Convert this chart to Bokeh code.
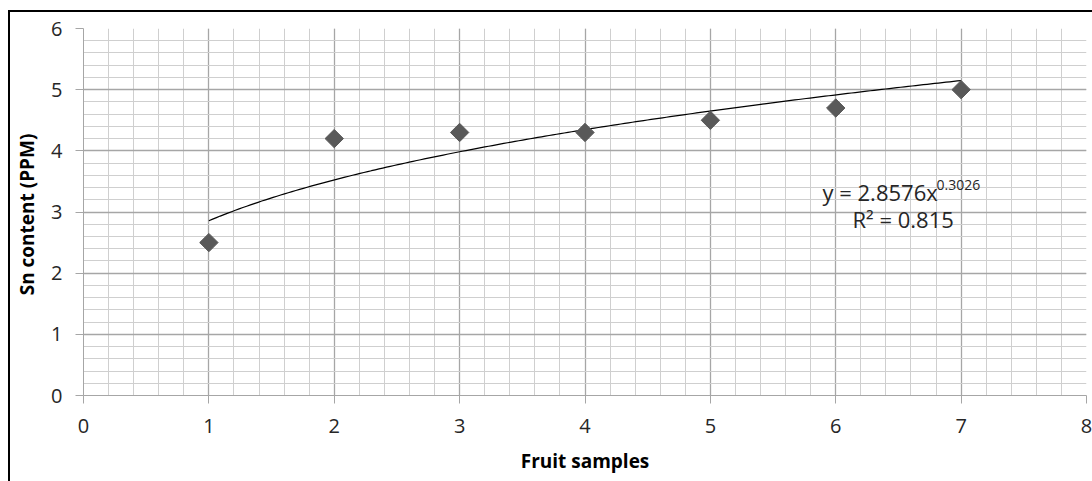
import numpy as np
from bokeh.plotting import figure
from bokeh.models import Label, FixedTicker, Range1d
from bokeh.embed import file_html
from bokeh.resources import INLINE

# Data
samples = [1, 2, 3, 4, 5, 6, 7]
sn_ppm = [2.5, 4.2, 4.3, 4.3, 4.5, 4.7, 5.0]
x_ticks = [0, 1, 2, 3, 4, 5, 6, 7, 8]
y_ticks = [0, 1, 2, 3, 4, 5, 6]
eq_text = "y = 2.8576x"
eq_exp = "0.3026"
r2_text = "R\u00b2 = 0.815"

# Power trendline fitted from data (least squares in log space)
b, lna = np.polyfit(np.log(samples), np.log(sn_ppm), 1)
a = np.exp(lna)
xt = np.linspace(min(samples), max(samples), 200)
yt = a * xt ** b

FONT = "Open Sans"

p = figure(frame_width=1003, frame_height=367, output_backend="svg", toolbar_location=None,
           x_range=Range1d(0, 8), y_range=Range1d(0, 6),
           min_border_left=73, min_border_right=6, min_border_top=16, min_border_bottom=86)
p.styles = {"margin-left": "8px", "margin-top": "10px",
            "border-left": "2px solid black", "border-top": "2px solid black"}
p.outline_line_color = None
p.background_fill_color = "white"

for ax, ticks in ((p.xaxis, x_ticks), (p.yaxis, y_ticks)):
    ax.ticker = FixedTicker(ticks=ticks, minor_ticks=list(np.arange(0, 8.01, 0.2)))
    ax.axis_line_color = "#a6a6a6"
    ax.major_tick_line_color = "#a6a6a6"
    ax.major_tick_out = 8
    ax.major_tick_in = 0
    ax.minor_tick_line_color = None
    ax.major_label_text_font = FONT
    ax.major_label_text_font_size = "20px"
    ax.major_label_text_color = "#262626"
    ax.axis_label_text_font = FONT
    ax.axis_label_text_font_style = "bold"
    ax.axis_label_text_font_size = "19px"
    ax.axis_label_text_color = "#000000"

p.xaxis.axis_label = "Fruit samples"
p.yaxis.axis_label = "Sn  content (PPM)"
p.xaxis.major_label_standoff = 15
p.yaxis.major_label_standoff = 13
p.xaxis.axis_label_standoff = 12
p.yaxis.axis_label_standoff = 8

for g in (p.xgrid, p.ygrid):
    g.grid_line_color = "#a6a6a6"
    g.grid_line_width = 1.3
    g.minor_grid_line_color = "#cfcfcf"
    g.minor_grid_line_width = 1

p.line(xt, yt, line_color="black", line_width=1.2)
p.scatter(samples, sn_ppm, marker="square", size=13, angle=np.pi / 4,
          fill_color="#595959", line_color="#595959")

p.add_layout(Label(x=739, y=204, x_units="screen", y_units="screen", text=eq_text,
                   text_font=FONT, text_font_size="22px", text_color="#262626",
                   text_baseline="middle"))
p.add_layout(Label(x=853, y=211, x_units="screen", y_units="screen", text=eq_exp,
                   text_font=FONT, text_font_size="14px", text_color="#262626",
                   text_baseline="middle"))
p.add_layout(Label(x=769, y=177, x_units="screen", y_units="screen", text=r2_text,
                   text_font=FONT, text_font_size="22px", text_color="#262626",
                   text_baseline="middle"))

open("out.html", "w").write(file_html(p, INLINE))
